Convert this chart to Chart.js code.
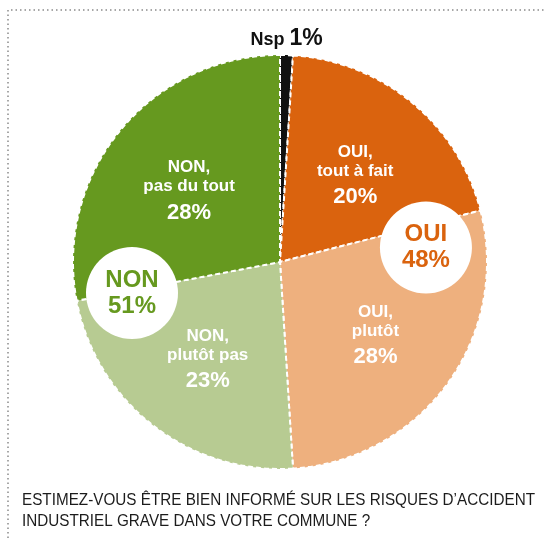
<!DOCTYPE html>
<html>
<head>
<meta charset="utf-8">
<script src="https://cdn.jsdelivr.net/npm/chart.js@4"></script>
<style>
html, body { margin: 0; padding: 0; background: #fff; }
#wrap { width: 544px; height: 538px; }
</style>
</head>
<body>
<div id="wrap"><canvas id="pieChart" width="544" height="538"></canvas></div>
<script>
// Survey answers, clockwise from the top
const sliceNames = ['Nsp', 'OUI, tout à fait', 'OUI, plutôt', 'NON, plutôt pas', 'NON, pas du tout'];
const sliceLines = [['Nsp'], ['OUI,', 'tout à fait'], ['OUI,', 'plutôt'], ['NON,', 'plutôt pas'], ['NON,', 'pas du tout']];
const sliceValues = [1, 20, 28, 23, 28];
const sliceColors = ['#111111', '#DA630E', '#EEB07E', '#B7CB92', '#66991F'];

// Totals shown in the white circles
const groupNames = ['OUI', 'NON'];
const groupValues = [48, 51];
const groupColors = ['#DA630E', '#66991F'];

const questionLines = [
    'ESTIMEZ-VOUS ÊTRE BIEN INFORMÉ SUR LES RISQUES D’ACCIDENT',
    'INDUSTRIEL GRAVE DANS VOTRE COMMUNE ?'
];

const FONT = '"Liberation Sans", Arial, Helvetica, sans-serif';

/**
 * Dotted frame, slice labels, group badges and the question
 */
const decorPlugin = {
    id: 'decor',
    afterDatasetsDraw(chart) {
        const ctx = chart.ctx;
        const arcs = chart.getDatasetMeta(0).data;
        const first = arcs[0];
        const cx = first.x, cy = first.y, R = first.outerRadius;

        ctx.save();
        ctx.textAlign = 'center';
        ctx.textBaseline = 'middle';

        // labels inside slices
        arcs.forEach((arc, i) => {
            if (i === 0) return;
            const mid = (arc.startAngle + arc.endAngle) / 2;
            const x = cx + Math.cos(mid) * R * 0.57;
            const y = cy + Math.sin(mid) * R * 0.57 + 3;
            ctx.fillStyle = '#ffffff';
            ctx.font = 'bold 17px ' + FONT;
            ctx.fillText(sliceLines[i][0], x, y - 22);
            ctx.fillText(sliceLines[i][1], x, y - 3);
            ctx.font = 'bold 22px ' + FONT;
            ctx.fillText(sliceValues[i] + '%', x, y + 23);
        });

        // Nsp label above the small slice
        const nsp = arcs[0];
        const nMid = (nsp.startAngle + nsp.endAngle) / 2;
        const nx = cx + Math.cos(nMid) * R;
        const ny = cy + Math.sin(nMid) * R - 10;
        ctx.textBaseline = 'alphabetic';
        ctx.fillStyle = '#111111';
        ctx.font = 'bold 18px ' + FONT;
        const w1 = ctx.measureText(sliceLines[0][0] + ' ').width;
        ctx.font = 'bold 23px ' + FONT;
        const w2 = ctx.measureText(sliceValues[0] + '%').width;
        const startX = nx - (w1 + w2) / 2;
        ctx.textAlign = 'left';
        ctx.font = 'bold 18px ' + FONT;
        ctx.fillText(sliceLines[0][0] + ' ', startX, ny);
        ctx.font = 'bold 23px ' + FONT;
        ctx.fillText(sliceValues[0] + '%', startX + w1, ny);

        // group badges
        const badgePos = [[0.705, -0.07], [-0.715, 0.15]];
        ctx.textAlign = 'center';
        ctx.textBaseline = 'middle';
        groupNames.forEach((name, i) => {
            const bx = cx + badgePos[i][0] * R;
            const by = cy + badgePos[i][1] * R;
            ctx.beginPath();
            ctx.arc(bx, by, 46, 0, Math.PI * 2);
            ctx.fillStyle = '#ffffff';
            ctx.fill();
            ctx.fillStyle = groupColors[i];
            ctx.font = 'bold 24px ' + FONT;
            ctx.fillText(name, bx, by - 13);
            ctx.fillText(groupValues[i] + '%', bx, by + 13);
        });
        ctx.restore();
    },
    afterDraw(chart) {
        const ctx = chart.ctx;
        ctx.save();

        // dotted frame
        ctx.strokeStyle = '#8a8a8a';
        ctx.lineWidth = 1.5;
        ctx.setLineDash([1.5, 3]);
        ctx.beginPath();
        ctx.moveTo(8, 538);
        ctx.lineTo(8, 10);
        ctx.lineTo(544, 10);
        ctx.stroke();
        ctx.setLineDash([]);

        // question
        ctx.fillStyle = '#1c1c1c';
        ctx.font = '17px ' + FONT;
        ctx.textAlign = 'left';
        ctx.textBaseline = 'alphabetic';
        const sx = 513 / ctx.measureText(questionLines[0]).width;
        ctx.translate(22, 0);
        ctx.scale(sx, 1);
        ctx.fillText(questionLines[0], 0, 505);
        ctx.fillText(questionLines[1], 0, 526);
        ctx.restore();
    }
};

new Chart(document.getElementById('pieChart'), {
    type: 'pie',
    data: {
        labels: sliceNames,
        datasets: [{
            data: sliceValues,
            backgroundColor: sliceColors,
            borderColor: '#ffffff',
            borderWidth: 2,
            borderDash: [5, 3]
        }]
    },
    options: {
        responsive: false,
        animation: false,
        events: [],
        layout: {
            padding: { left: 72, right: 56, top: 54, bottom: 68 }
        },
        plugins: {
            legend: { display: false },
            tooltip: { enabled: false }
        }
    },
    plugins: [decorPlugin]
});
</script>
</body>
</html>
